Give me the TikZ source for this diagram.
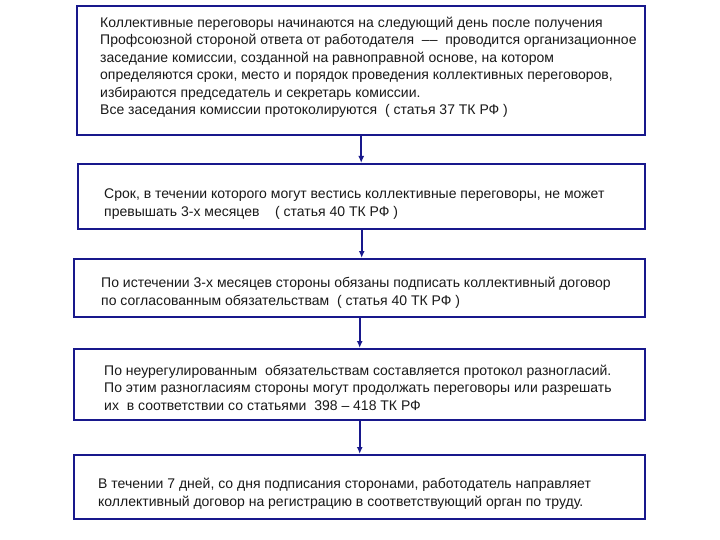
\documentclass[tikz,border=0pt]{standalone}
\usepackage{fontspec}
\setmainfont{Liberation Sans}
\usetikzlibrary{arrows.meta}
\definecolor{navy}{RGB}{24,24,140}
\begin{document}
\begin{tikzpicture}[x=1pt,y=-1pt,
  box/.style={draw=navy, line width=2.4pt, fill=white, inner sep=0pt, anchor=north west},
  txt/.style={anchor=base west, align=left, inner sep=0pt, font=\fontsize{14}{17.5}\selectfont, text=black!90},
  arr/.style={draw=navy, line width=2pt, -{Latex[length=7pt,width=6pt]}}]
\useasboundingbox[fill=white] (0,0) rectangle (720,540);
\node[box, minimum width=568pt, minimum height=129pt] (b1) at (76,5) {};
\node[box, minimum width=567pt, minimum height=65pt] (b2) at (77,163) {};
\node[box, minimum width=571pt, minimum height=58pt] (b3) at (73,258) {};
\node[box, minimum width=571pt, minimum height=71pt] (b4) at (73,348) {};
\node[box, minimum width=571pt, minimum height=64pt] (b5) at (73,454) {};
\node[txt] (t1) at (100,115) {Коллективные переговоры начинаются на следующий день после получения\\
Профсоюзной стороной ответа от работодателя \ ––\ \ проводится организационное\\
заседание комиссии, созданной на равноправной основе, на котором\\
определяются сроки, место и порядок проведения коллективных переговоров,\\
избираются председатель и секретарь комиссии.\\
Все заседания комиссии протоколируются \ ( статья 37 ТК РФ )};
\node[txt] (t2) at (104,216) {Срок, в течении которого могут вестись коллективные переговоры, не может\\
превышать 3-х месяцев \ \ \ ( статья 40 ТК РФ )};
\node[txt] (t3) at (101,305) {По истечении 3-х месяцев стороны обязаны подписать коллективный договор\\
по согласованным обязательствам \ ( статья 40 ТК РФ )};
\node[txt] (t4) at (104,410) {По неурегулированным \ обязательствам составляется протокол разногласий.\\
По этим разногласиям стороны могут продолжать переговоры или разрешать\\
их \ в соответствии со статьями \ 398 – 418 ТК РФ};
\node[txt] (t5) at (98,506) {В течении 7 дней, со дня подписания сторонами, работодатель направляет\\
коллективный договор на регистрацию в соответствующий орган по труду.};
\draw[arr] (b1.south) -- (b1.south |- b2.north);
\draw[arr] (b2.south) -- (b2.south |- b3.north);
\draw[arr] (b3.south) -- (b3.south |- b4.north);
\draw[arr] (b4.south) -- (b4.south |- b5.north);
\end{tikzpicture}
\end{document}
